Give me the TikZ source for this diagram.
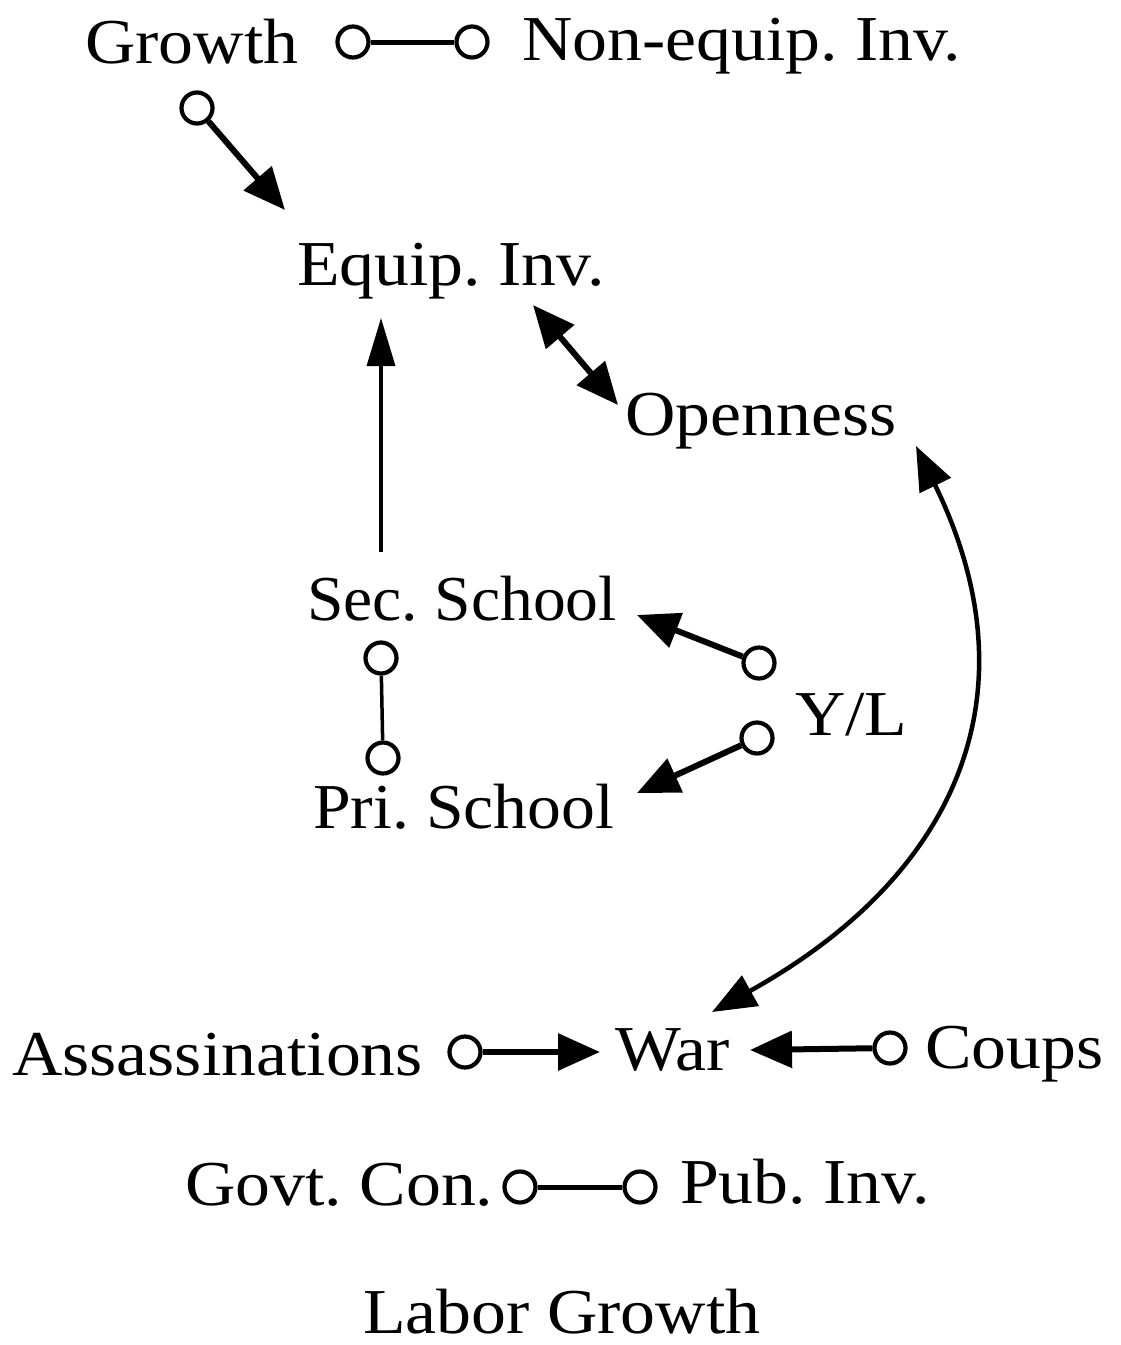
\documentclass[tikz,border=0pt]{standalone}
\usepackage{fontspec}
\setmainfont[FakeStretch=1.09]{Liberation Serif}
\usetikzlibrary{arrows.meta}
\begin{document}
\frenchspacing
\begin{tikzpicture}[x=1pt,y=-1pt,
  lbl/.style={anchor=base west,inner sep=0pt,font=\fontsize{64}{72}\selectfont},
  dot/.style={circle,draw,line width=4.2pt,minimum size=31pt,inner sep=0pt},
  link/.style={line width=5pt},
  arr/.style={line width=6pt,-{Triangle[length=42pt,width=36pt]}},
  darr/.style={line width=6pt,{Triangle[length=42pt,width=36pt]}-{Triangle[length=42pt,width=36pt]}},
  carr/.style={line width=4.5pt,{Triangle[length=44pt,width=34pt]}-{Triangle[length=44pt,width=34pt]}},
  varr/.style={line width=3.5pt,-{Triangle[length=48pt,width=28pt]}}]
\useasboundingbox (0,0) rectangle (1121,1345);
% labels
\node[lbl] (gr) at (85,63) {Growth};
\node[lbl] (ne) at (522,60) {Non-equip. Inv.};
\node[lbl] (ei) at (297,285) {Equip. Inv.};
\node[lbl] (op) at (625,435) {Openness};
\node[lbl] (ss) at (307,620) {\scalebox{0.94}[1]{Sec. School}};
\node[lbl] (ps) at (313,828) {\scalebox{0.97}[1]{Pri. School}};
\node[lbl] (yl) at (795,735) {Y/L};
\node[lbl] (war) at (615,1070) {War};
\node[lbl] (as) at (12,1075) {Assassinations};
\node[lbl] (co) at (925,1068) {Coups};
\node[lbl] (gc) at (185,1205) {Govt. Con.};
\node[lbl] (pi) at (680,1203) {Pub. Inv.};
\node[lbl] (lg) at (363,1333) {Labor Growth};
% circles
\node[dot] (c1) at (353,42) {};
\node[dot] (c2) at (472,42) {};
\node[dot] (c3) at (197,108) {};
\node[dot] (c4) at (381,658) {};
\node[dot] (c5) at (383,758) {};
\node[dot] (c6) at (759,663) {};
\node[dot] (c7) at (757,738) {};
\node[dot] (c8) at (465,1052) {};
\node[dot] (c9) at (890,1048) {};
\node[dot] (c10) at (520,1187) {};
\node[dot] (c11) at (640,1187) {};
% arrow ends
\coordinate (t1) at (285,210);
\coordinate (t2a) at (533,305);
\coordinate (t2b) at (618,405);
\coordinate (t3a) at (381,552);
\coordinate (t3b) at (381,318);
\coordinate (t4) at (637,615);
\coordinate (t5) at (637,793);
\coordinate (t6) at (600,1052);
\coordinate (t7) at (750,1050);
\coordinate (t8a) at (916,446);
\coordinate (t8b) at (712,1012);
% connectors
\draw[link] (c1) -- (c2);
\draw[arr] (c3) -- (t1);
\draw[darr] (t2a) -- (t2b);
\draw[varr] (t3a) -- (t3b);
\draw[line width=3.5pt] (c4) -- (c5);
\draw[arr] (c6) -- (t4);
\draw[arr] (c7) -- (t5);
\draw[arr] (c8) -- (t6);
\draw[arr] (c9) -- (t7);
\draw[link] (c10) -- (c11);
\draw[carr] (t8a) .. controls (1040,700) and (950,880) .. (t8b);
\end{tikzpicture}
\end{document}
